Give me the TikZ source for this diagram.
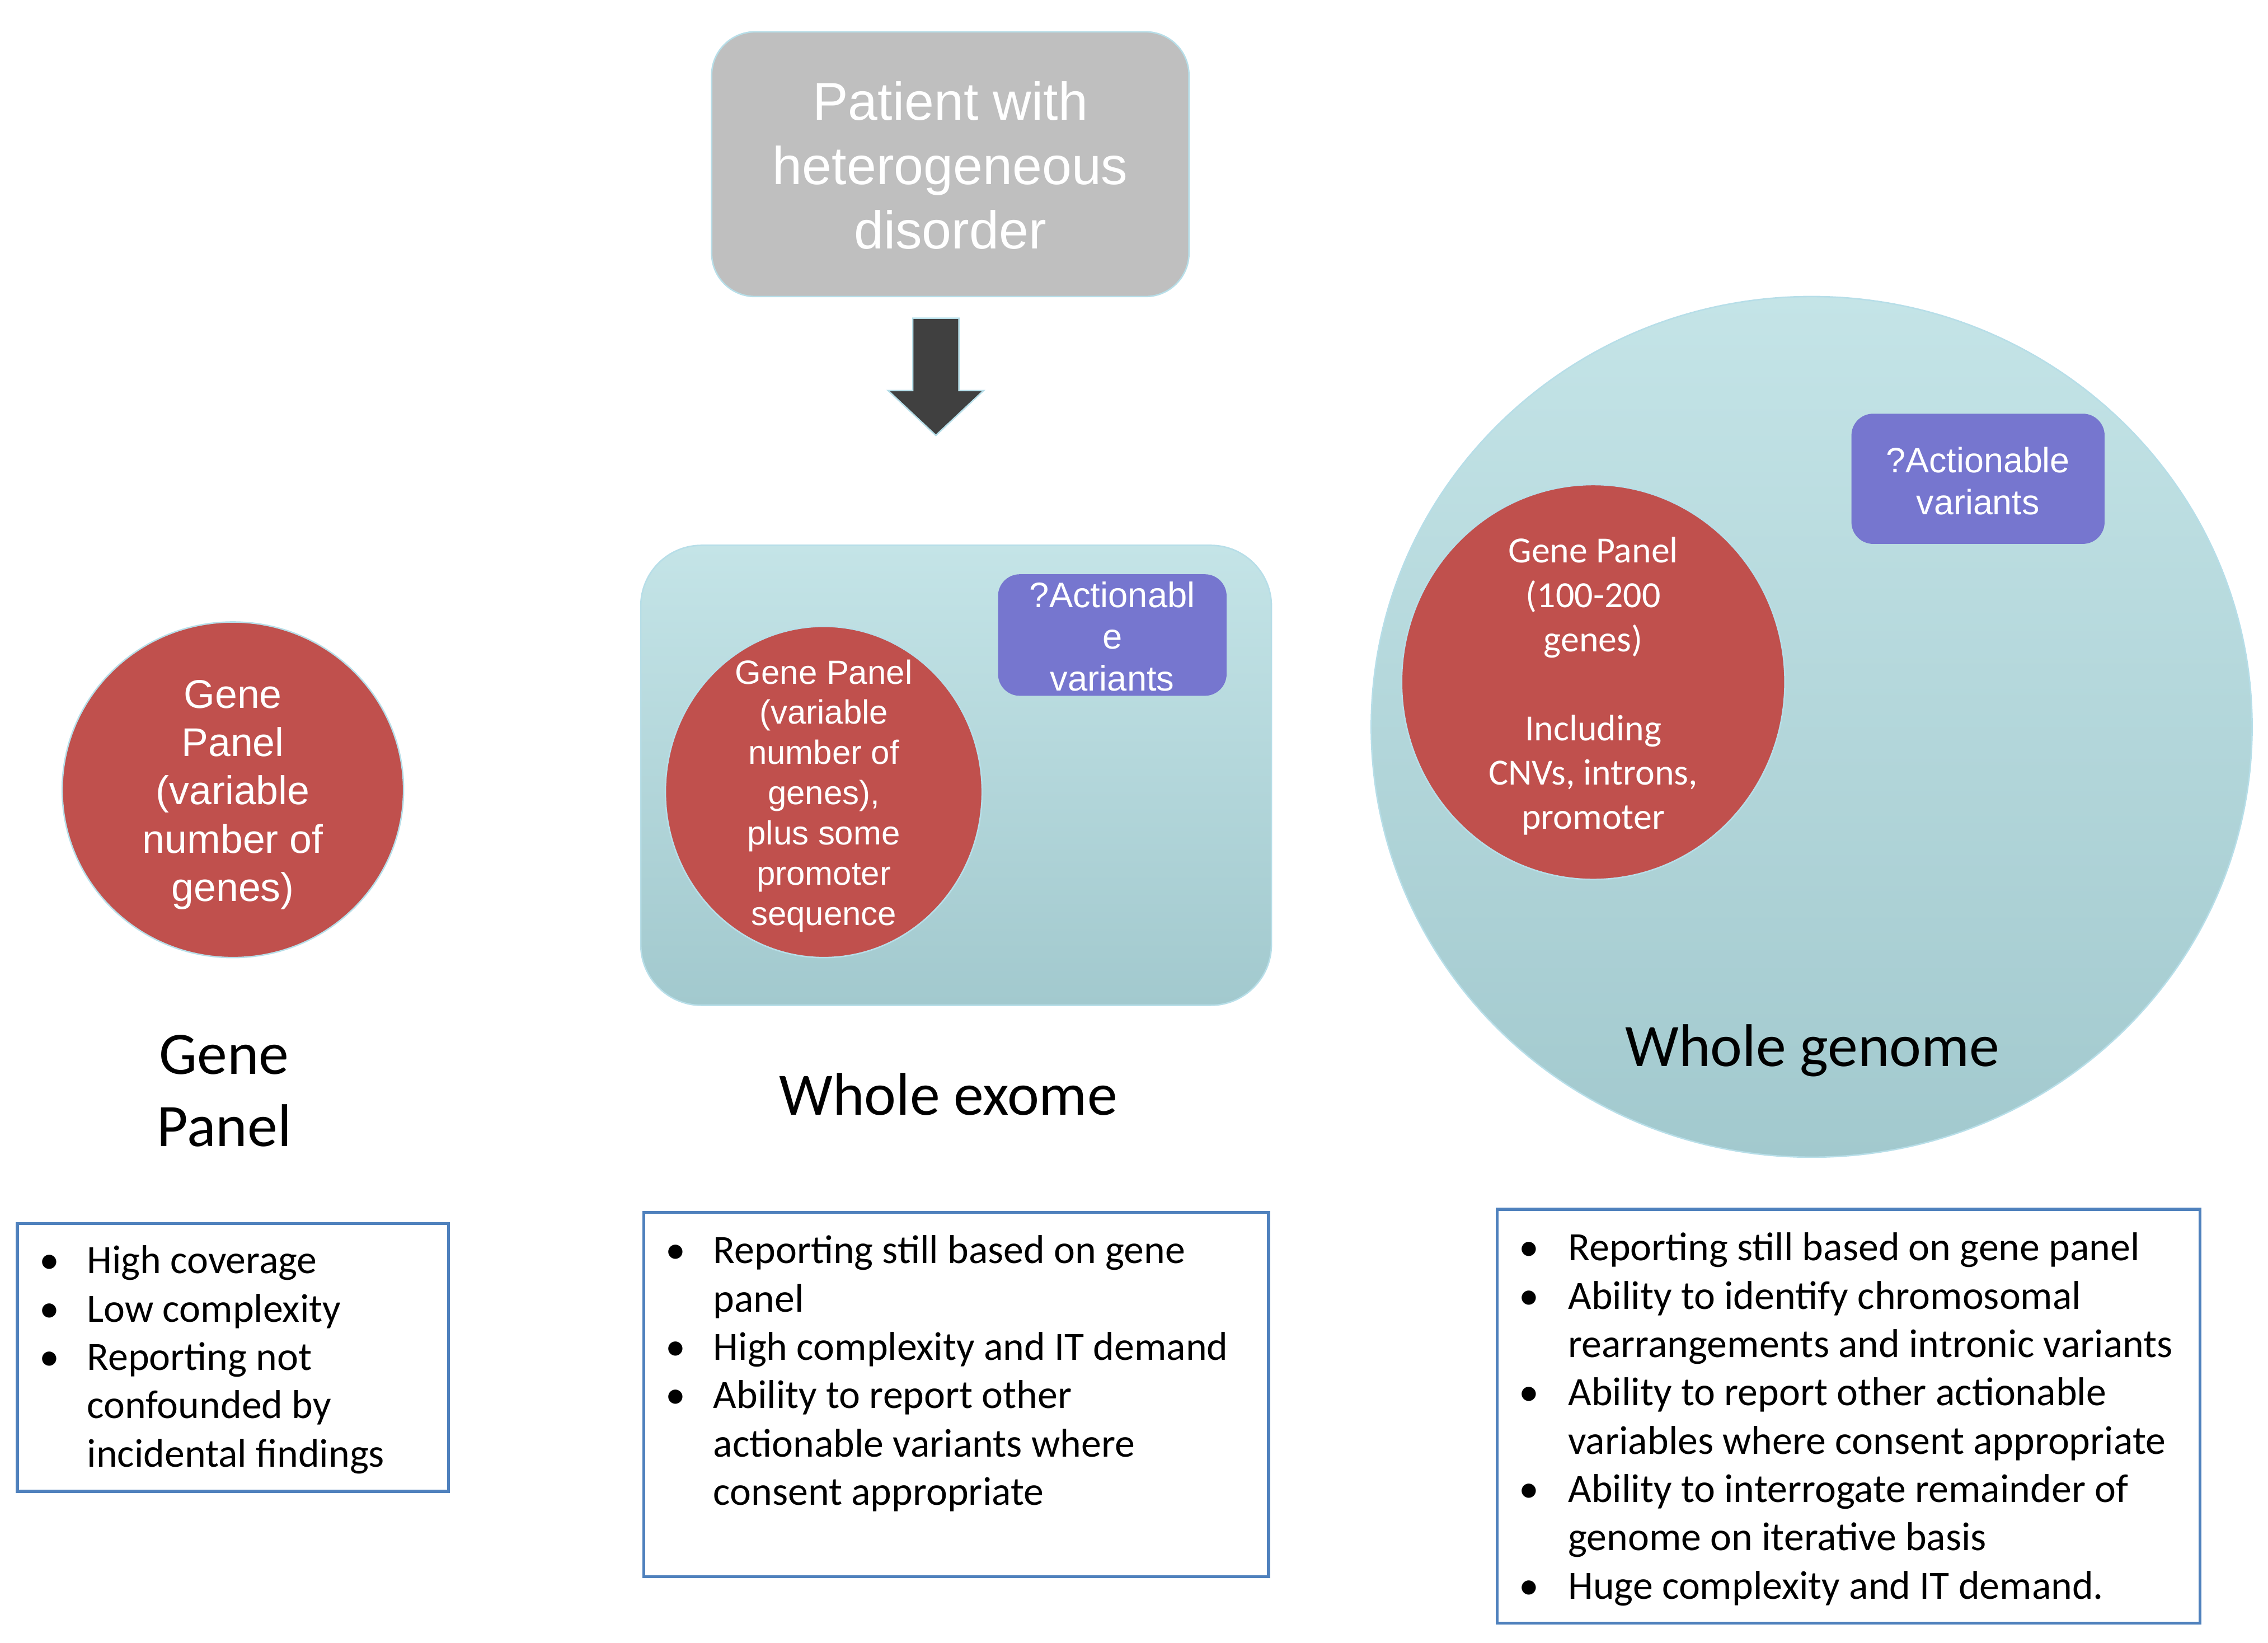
\documentclass[tikz,border=0pt]{standalone}
\usepackage{fontspec}
\setmainfont{Carlito}
\newfontfamily\arialf{Liberation Sans}
\usetikzlibrary{shapes.geometric}
\definecolor{redc}{HTML}{C0504D}
\definecolor{lblue}{HTML}{B7DEE8}
\definecolor{grayc}{HTML}{BFBFBF}
\definecolor{purp}{HTML}{7676CF}
\definecolor{arrowc}{HTML}{404040}
\definecolor{boxb}{HTML}{4F81BD}
\definecolor{gtop}{HTML}{C4E4E7}
\definecolor{gmid}{HTML}{B7DFE2}
\definecolor{gbot}{HTML}{A2C9CE}
\newcommand{\bul}{\makebox[16pt][c]{\textbullet}}
\begin{document}
\begin{tikzpicture}[x=1pt,y=-1pt,
  redcirc/.style={ellipse, fill=redc, draw=lblue, line width=1pt, inner sep=0pt},
  circtext/.style={text=white, align=center, inner sep=0pt},
  actbox/.style={rectangle, rounded corners=15pt, fill=purp, text=white, align=center, inner sep=0pt},
  tealfill/.style={top color=gtop, middle color=gmid, bottom color=gbot, draw=lblue, line width=1pt},
  listbox/.style={rectangle, draw=boxb, line width=2pt, inner sep=0pt},
  listtext/.style={anchor=base west, inner sep=0pt, font=\fontsize{27.8}{33.4}\selectfont},
  biglabel/.style={anchor=base, inner sep=0pt, align=center, font=\fontsize{41.7}{50}\selectfont}]
\useasboundingbox (0,0) rectangle (1568,1135.5);

% patient box
\node[rectangle, rounded corners=30pt, fill=grayc, draw=lblue, line width=1pt,
      minimum width=330, minimum height=183] (patient) at (657,113.5) {};
\node[circtext, font=\arialf\fontsize{36.8}{44.5}\selectfont] (patientt) at (657,114.3)
      {Patient with\\heterogeneous\\disorder};

% block arrow
\draw[fill=arrowc, draw=lblue, line width=1pt]
  (631,220) -- (663,220) -- (663,270) -- (680,270) -- (647,301) -- (614,270) -- (631,270) -- cycle;

% left: gene panel
\node[redcirc, minimum width=236, minimum height=232] (gpc) at (161,546) {};
\node[circtext, font=\arialf\fontsize{27.7}{33.3}\selectfont] (gpct) at (161,549.5)
      {Gene\\Panel\\(variable\\number of\\genes)};
\node[biglabel] (gpl) at (155,792.5) {Gene\\Panel};

% middle: whole exome
\node[rectangle, rounded corners=42pt, tealfill, minimum width=436, minimum height=318] (exome) at (661,536) {};
\node[redcirc, minimum width=219, minimum height=229] (exc) at (569.5,547.5) {};
\node[circtext, font=\arialf\fontsize{23.2}{27.8}\selectfont] (exct) at (569.5,550.2)
      {Gene Panel\\(variable\\number of\\genes),\\plus some\\promoter\\sequence};
\node[actbox, minimum width=158, minimum height=84] (exact) at (769,439) {};
\node[circtext, font=\arialf\fontsize{24.5}{29}\selectfont] (exactt) at (769,440)
      {?Actionabl\\e\\variants};
\node[biglabel] (exl) at (655.5,771) {Whole exome};

% right: whole genome
\node[ellipse, tealfill, minimum width=609, minimum height=595, inner sep=0pt] (genome) at (1252.5,502.5) {};
\node[redcirc, minimum width=265, minimum height=273] (gnc) at (1101.5,471.5) {};
\node[circtext, font=\fontsize{25.5}{30.7}\selectfont] (gnct) at (1101.5,474.4)
      {Gene Panel\\(100-200\\genes)\\\mbox{}\\Including\\CNVs, introns,\\promoter};
\node[actbox, minimum width=175, minimum height=90] (gnact) at (1367.5,331) {};
\node[circtext, font=\arialf\fontsize{24.3}{29}\selectfont] (gnactt) at (1367.5,332.5)
      {?Actionable\\variants};
\node[biglabel] (gnl) at (1253,737) {Whole genome};

% list boxes
\node[listbox, minimum width=298, minimum height=185] (lb1) at (161,938.5) {};
\node[listtext] (lt1) at (26,880.5) {\begin{tabular}[t]{@{}p{34pt}@{}l@{}}
\bul & High coverage\\
\bul & Low complexity\\
\bul & Reporting not\\
     & confounded by\\
     & incidental findings
\end{tabular}};

\node[listbox, minimum width=432, minimum height=252] (lb2) at (661,964) {};
\node[listtext] (lt2) at (459,873.5) {\begin{tabular}[t]{@{}p{34pt}@{}l@{}}
\bul & Reporting still based on gene\\
     & panel\\
\bul & High complexity and IT demand\\
\bul & Ability to report other\\
     & actionable variants where\\
     & consent appropriate
\end{tabular}};

\node[listbox, minimum width=486, minimum height=286] (lb3) at (1278,979) {};
\node[listtext] (lt3) at (1049,871.5) {\begin{tabular}[t]{@{}p{35pt}@{}l@{}}
\bul & Reporting still based on gene panel\\
\bul & Ability to identify chromosomal\\
     & rearrangements and intronic variants\\
\bul & Ability to report other actionable\\
     & variables where consent appropriate\\
\bul & Ability to interrogate remainder of\\
     & genome on iterative basis\\
\bul & Huge complexity and IT demand.
\end{tabular}};
\end{tikzpicture}
\end{document}
